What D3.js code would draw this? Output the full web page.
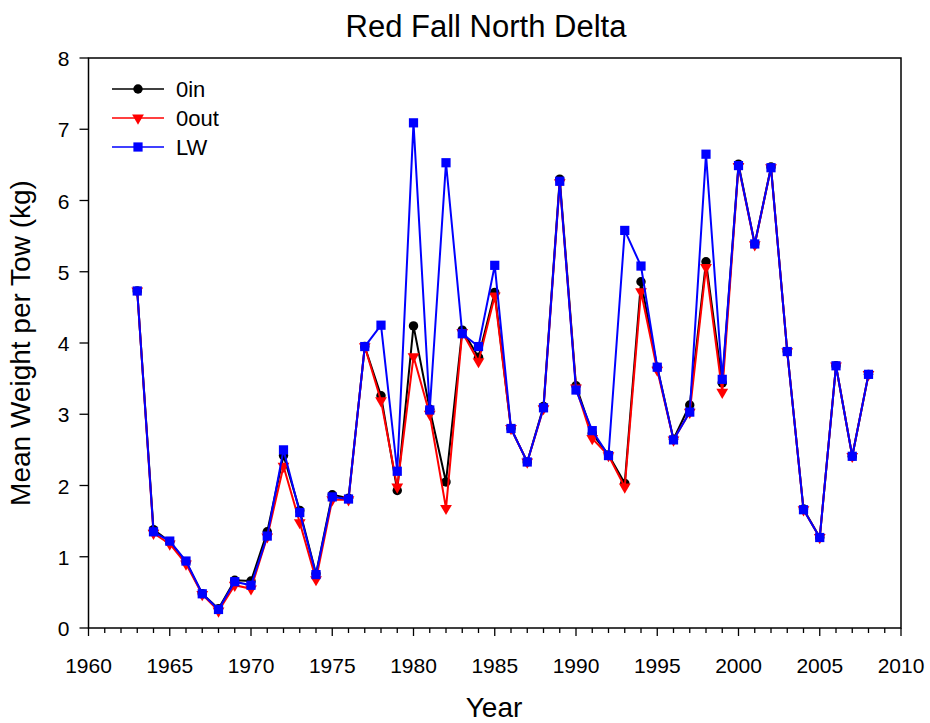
<!DOCTYPE html>
<meta charset="utf-8">
<html>
<body style="margin:0;background:#fff">
<script src="https://cdn.jsdelivr.net/npm/d3@7"></script>
<script>
// data
var years = [1963,1964,1965,1966,1967,1968,1969,1970,1971,1972,1973,1974,1975,1976,1977,1978,1979,1980,1981,1982,1983,1984,1985,1986,1987,1988,1989,1990,1991,1992,1993,1994,1995,1996,1997,1998,1999,2000,2001,2002,2003,2004,2005,2006,2007,2008];
var in0  = [4.73,1.38,1.21,0.93,0.48,0.27,0.67,0.66,1.35,2.42,1.65,0.76,1.87,1.82,3.95,3.26,1.93,4.24,3.07,2.05,4.18,3.80,4.71,2.80,2.33,3.11,6.30,3.40,2.73,2.43,2.03,4.86,3.66,2.65,3.13,5.14,3.44,6.51,5.39,6.47,3.88,1.67,1.27,3.68,2.41,3.56];
var out0 = [4.73,1.33,1.18,0.90,0.47,0.24,0.60,0.55,1.28,2.27,1.48,0.68,1.80,1.80,3.95,3.19,1.98,3.81,3.00,1.68,4.15,3.74,4.66,2.80,2.33,3.08,6.25,3.37,2.66,2.42,1.98,4.72,3.62,2.64,3.03,5.06,3.31,6.48,5.38,6.46,3.88,1.66,1.27,3.68,2.41,3.56];
var lw   = [4.73,1.35,1.22,0.94,0.48,0.26,0.65,0.60,1.29,2.50,1.62,0.75,1.84,1.81,3.95,4.25,2.20,7.09,3.06,6.53,4.13,3.95,5.09,2.80,2.33,3.09,6.27,3.34,2.77,2.42,5.58,5.08,3.66,2.64,3.03,6.65,3.49,6.49,5.39,6.46,3.88,1.66,1.27,3.68,2.41,3.56];
var seriesNames = ["0in", "0out", "LW"];
var xTicks = [1960,1965,1970,1975,1980,1985,1990,1995,2000,2005,2010];
var yTicks = [0,1,2,3,4,5,6,7,8];

var W = 930, H = 723;
var pLeft = 88.5, pRight = 901, pTop = 58, pBottom = 628;

var svg = d3.select("body").append("svg")
    .attr("width", W).attr("height", H)
    .style("font-family", "'Liberation Sans', Arial, sans-serif");

var x = d3.scaleLinear().domain([1960, 2010]).range([pLeft, pRight]);
var y = d3.scaleLinear().domain([0, 8]).range([pBottom, pTop]);

// frame
svg.append("rect")
    .attr("x", pLeft).attr("y", pTop)
    .attr("width", pRight - pLeft).attr("height", pBottom - pTop)
    .attr("fill", "none").attr("stroke", "#000").attr("stroke-width", 1.5);

// x axis: yearly minor ticks, labels every 5
var xAxis = svg.append("g").attr("transform", "translate(0," + pBottom + ")");
xAxis.selectAll("line.minor").data(d3.range(1960, 2011))
  .enter().append("line")
    .attr("x1", function (d) { return x(d); }).attr("x2", function (d) { return x(d); })
    .attr("y1", 0).attr("y2", function (d) { return d % 5 === 0 ? 8 : 5; })
    .attr("stroke", "#000").attr("stroke-width", 1.3);
xAxis.selectAll("text").data(xTicks)
  .enter().append("text")
    .attr("x", function (d) { return x(d); })
    .attr("y", 45)
    .attr("text-anchor", "middle")
    .style("font-size", "21px")
    .text(function (d) { return d; });

// y axis
var yAxis = svg.append("g").attr("transform", "translate(" + pLeft + ",0)");
yAxis.selectAll("line").data(yTicks)
  .enter().append("line")
    .attr("x1", -9).attr("x2", 0)
    .attr("y1", function (d) { return y(d); }).attr("y2", function (d) { return y(d); })
    .attr("stroke", "#000").attr("stroke-width", 1.3);
yAxis.selectAll("text").data(yTicks)
  .enter().append("text")
    .attr("x", -19)
    .attr("y", function (d) { return y(d) + 8; })
    .attr("text-anchor", "end")
    .style("font-size", "21px")
    .text(function (d) { return d; });

// titles
svg.append("text").attr("x", 486).attr("y", 37)
    .attr("text-anchor", "middle").style("font-size", "31px")
    .text("Red Fall North Delta");
svg.append("text").attr("x", 494).attr("y", 717)
    .attr("text-anchor", "middle").style("font-size", "28px")
    .text("Year");
svg.append("text")
    .attr("transform", "translate(30," + ((pTop + pBottom) / 2) + ") rotate(-90)")
    .attr("text-anchor", "middle").style("font-size", "28px")
    .text("Mean Weight per Tow (kg)");

// series
var series = [
  { name: seriesNames[0], values: in0, color: "#000000", shape: d3.symbolCircle, size: 70 },
  { name: seriesNames[1], values: out0, color: "#ff0000", shape: d3.symbolTriangle, size: 60, flip: true },
  { name: seriesNames[2], values: lw, color: "#0000ff", shape: d3.symbolSquare, size: 85 }
];

var line = d3.line()
    .x(function (d) { return x(d[0]); })
    .y(function (d) { return y(d[1]); });

function symbolPath(s) {
  return d3.symbol().type(s.shape).size(s.size)();
}

series.forEach(function (s) {
  var pts = years.map(function (yr, i) { return [yr, s.values[i]]; });
  svg.append("path").datum(pts)
      .attr("d", line)
      .attr("fill", "none")
      .attr("stroke", s.color)
      .attr("stroke-width", 2);
  svg.selectAll(null).data(pts)
    .enter().append("path")
      .attr("d", symbolPath(s))
      .attr("transform", function (d) {
        return "translate(" + x(d[0]) + "," + y(d[1]) + ")" + (s.flip ? " rotate(180)" : "");
      })
      .attr("fill", s.color);
});

// legend
var legend = svg.append("g").attr("transform", "translate(112,89)");
series.forEach(function (s, i) {
  var g = legend.append("g").attr("transform", "translate(0," + (i * 29) + ")");
  g.append("line").attr("x1", 0).attr("x2", 52).attr("y1", 0).attr("y2", 0)
      .attr("stroke", s.color).attr("stroke-width", 1.5);
  g.append("path").attr("d", symbolPath(s))
      .attr("transform", "translate(26,0)" + (s.flip ? " rotate(180)" : ""))
      .attr("fill", s.color);
  g.append("text").attr("x", 64).attr("y", 8)
      .style("font-size", "22px")
      .text(s.name);
});
</script>
</body>
</html>
